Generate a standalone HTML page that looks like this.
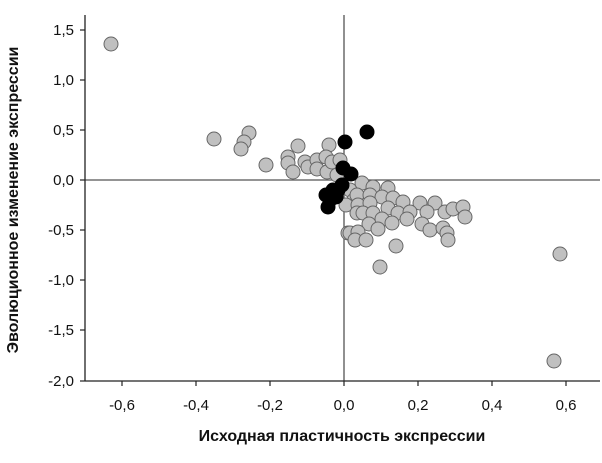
<!DOCTYPE html>
<html><head><meta charset="utf-8"><style>
body{margin:0;background:#fff;}
svg{display:block;font-family:"Liberation Sans","DejaVu Sans",sans-serif;}
</style></head><body>
<svg width="602" height="463" viewBox="0 0 602 463">
<rect width="602" height="463" fill="#fff"/>
<line x1="85" y1="180" x2="600" y2="180" stroke="#555" stroke-width="1.3"/>
<line x1="344" y1="15" x2="344" y2="381" stroke="#555" stroke-width="1.3"/>
<line x1="85" y1="15" x2="85" y2="381" stroke="#222" stroke-width="1.3"/>
<line x1="85" y1="381" x2="600" y2="381" stroke="#222" stroke-width="1.3"/>
<g stroke="#222" stroke-width="1.2">
<line x1="80" y1="30" x2="85" y2="30"/><line x1="80" y1="80" x2="85" y2="80"/><line x1="80" y1="130" x2="85" y2="130"/><line x1="80" y1="180" x2="85" y2="180"/><line x1="80" y1="230" x2="85" y2="230"/><line x1="80" y1="280" x2="85" y2="280"/><line x1="80" y1="330" x2="85" y2="330"/><line x1="80" y1="381" x2="85" y2="381"/>
<line x1="122" y1="381" x2="122" y2="386"/><line x1="196" y1="381" x2="196" y2="386"/><line x1="270" y1="381" x2="270" y2="386"/><line x1="344" y1="381" x2="344" y2="386"/><line x1="418" y1="381" x2="418" y2="386"/><line x1="492" y1="381" x2="492" y2="386"/><line x1="566" y1="381" x2="566" y2="386"/>
</g>
<g font-size="15" fill="#111" text-anchor="end">
<text x="74" y="35">1,5</text><text x="74" y="85">1,0</text><text x="74" y="135">0,5</text><text x="74" y="185">0,0</text><text x="74" y="235">-0,5</text><text x="74" y="285">-1,0</text><text x="74" y="335">-1,5</text><text x="74" y="386">-2,0</text>
</g>
<g font-size="15" fill="#111" text-anchor="middle">
<text x="122" y="410">-0,6</text><text x="196" y="410">-0,4</text><text x="270" y="410">-0,2</text><text x="344" y="410">0,0</text><text x="418" y="410">0,2</text><text x="492" y="410">0,4</text><text x="566" y="410">0,6</text>
</g>
<text x="342" y="441" font-size="16" font-weight="bold" text-anchor="middle" fill="#111">Исходная пластичность экспрессии</text>
<text transform="translate(18,200) rotate(-90)" font-size="16" font-weight="bold" text-anchor="middle" fill="#111">Эволюционное изменение экспрессии</text>
<g fill="#c0c0c0" stroke="#666" stroke-width="1">
<circle cx="111" cy="44" r="7"/><circle cx="214" cy="139" r="7"/><circle cx="249" cy="133" r="7"/><circle cx="244" cy="142" r="7"/><circle cx="241" cy="149" r="7"/><circle cx="266" cy="165" r="7"/>
<circle cx="298" cy="146" r="7"/><circle cx="288" cy="157" r="7"/><circle cx="288" cy="163" r="7"/><circle cx="293" cy="172" r="7"/><circle cx="305" cy="162" r="7"/><circle cx="308" cy="167" r="7"/><circle cx="317" cy="160" r="7"/><circle cx="317" cy="169" r="7"/><circle cx="327" cy="172" r="7"/><circle cx="329" cy="145" r="7"/><circle cx="326" cy="157" r="7"/><circle cx="332" cy="162" r="7"/><circle cx="340" cy="160" r="7"/><circle cx="337" cy="175" r="7"/>
<circle cx="348" cy="233" r="7"/><circle cx="355" cy="240" r="7"/>
<circle cx="350" cy="190" r="7"/><circle cx="354" cy="200" r="7"/><circle cx="346" cy="205" r="7"/>
<circle cx="362" cy="183" r="7"/><circle cx="373" cy="187" r="7"/><circle cx="388" cy="188" r="7"/><circle cx="357" cy="195" r="7"/><circle cx="370" cy="195" r="7"/><circle cx="382" cy="197" r="7"/><circle cx="393" cy="198" r="7"/><circle cx="403" cy="202" r="7"/><circle cx="420" cy="203" r="7"/><circle cx="435" cy="203" r="7"/><circle cx="358" cy="205" r="7"/><circle cx="370" cy="203" r="7"/><circle cx="388" cy="208" r="7"/><circle cx="398" cy="213" r="7"/><circle cx="410" cy="212" r="7"/><circle cx="427" cy="212" r="7"/><circle cx="445" cy="212" r="7"/><circle cx="453" cy="209" r="7"/><circle cx="463" cy="207" r="7"/><circle cx="465" cy="217" r="7"/><circle cx="357" cy="213" r="7"/><circle cx="363" cy="213" r="7"/><circle cx="373" cy="213" r="7"/><circle cx="382" cy="219" r="7"/><circle cx="392" cy="223" r="7"/><circle cx="407" cy="219" r="7"/><circle cx="422" cy="224" r="7"/><circle cx="430" cy="230" r="7"/><circle cx="369" cy="224" r="7"/><circle cx="378" cy="229" r="7"/><circle cx="350" cy="233" r="7"/><circle cx="358" cy="232" r="7"/><circle cx="355" cy="240" r="7"/><circle cx="366" cy="240" r="7"/><circle cx="443" cy="228" r="7"/><circle cx="447" cy="233" r="7"/><circle cx="448" cy="240" r="7"/><circle cx="396" cy="246" r="7"/><circle cx="380" cy="267" r="7"/>
<circle cx="560" cy="254" r="7"/><circle cx="554" cy="361" r="7"/>
</g>
<g fill="#000" stroke="#000" stroke-width="1">
<circle cx="345" cy="142" r="7"/><circle cx="367" cy="132" r="7"/><circle cx="343" cy="168" r="7"/><circle cx="351" cy="174" r="7"/><circle cx="342" cy="185" r="7"/><circle cx="338" cy="190" r="7"/><circle cx="333" cy="190" r="7"/><circle cx="326" cy="195" r="7"/><circle cx="336" cy="197" r="7"/><circle cx="330" cy="200" r="7"/><circle cx="328" cy="207" r="7"/>
</g>
</svg>
</body></html>
